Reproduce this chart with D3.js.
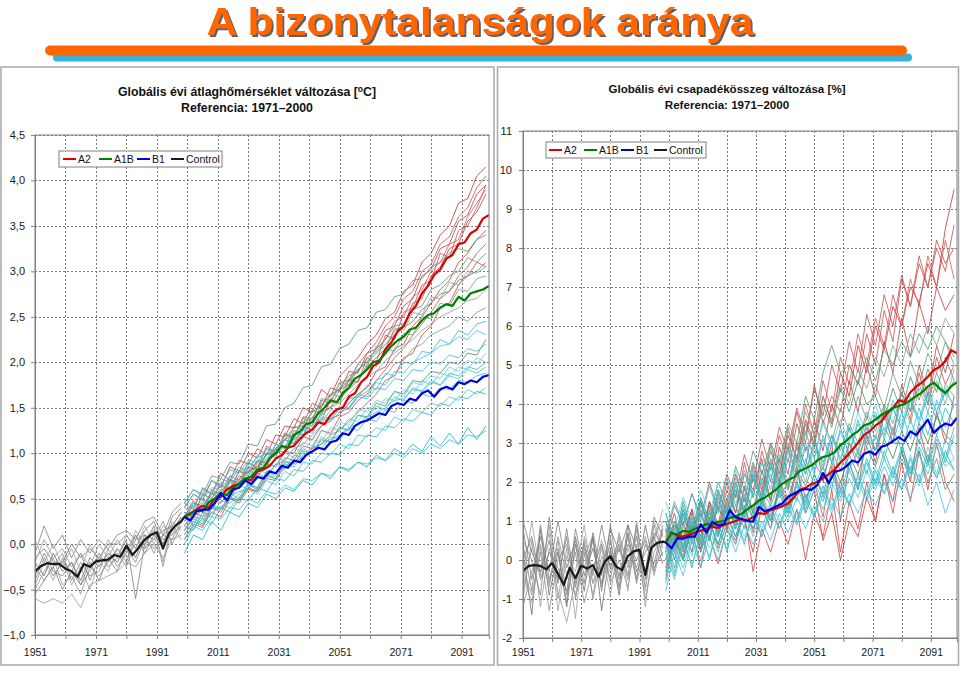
<!DOCTYPE html>
<html>
<head>
<meta charset="utf-8">
<script src="https://cdn.jsdelivr.net/npm/d3@7"></script>
<style>
body { margin: 0; background: #fff; }
svg { display: block; font-family: Arial, "Liberation Sans", sans-serif; }
</style>
</head>
<body>
<svg id="chart" width="960" height="675"></svg>
<script>
// evek (kategoriak)
const ctrlYears = [1951,1954,1957,1960,1963,1966,1969,1972,1975,1978,1981,1984,1987,1990,1993,1996,1999];
const scenYears = [2000,2003,2006,2009,2012,2015,2018,2021,2024,2027,2030,2033,2036,2039,2042,2045,2048,2051,2054,2057,2060,2063,2066,2069,2072,2075,2078,2081,2084,2087,2090,2093,2096,2099];
const meanCtrlYears = [1951,1953,1955,1957,1959,1961,1963,1965,1967,1969,1971,1973,1975,1977,1979,1981,1983,1985,1987,1989,1991,1993,1995,1997,1999,2000];
const meanScenYears = [2000,2002,2004,2006,2008,2010,2012,2014,2016,2018,2020,2022,2024,2026,2028,2030,2032,2034,2036,2038,2040,2042,2044,2046,2048,2050,2052,2054,2056,2058,2060,2062,2064,2066,2068,2070,2072,2074,2076,2078,2080,2082,2084,2086,2088,2090,2092,2094,2096,2098,2100];
const gridYears = [1961,1971,1981,1991,2001,2011,2021,2031,2041,2051,2061,2071,2081,2091];
const labelYears = [1951,1971,1991,2011,2031,2051,2071,2091];
const legendLabels = ["A2", "A1B", "B1", "Control"];

// homerseklet [°C]
const tempTicks = [-1, -0.5, 0, 0.5, 1, 1.5, 2, 2.5, 3, 3.5, 4, 4.5];
const tempControlRuns = [
  [-0.10,0.20,-0.05,0.10,-0.15,0.05,-0.10,0.05,-0.05,0.10,0.15,0.05,0.25,0.30,0.10,0.35,0.45],
  [-0.60,-0.65,-0.60,-0.65,-0.55,-0.70,-0.45,-0.40,-0.35,-0.30,-0.20,-0.25,-0.10,0.00,-0.15,0.05,0.10],
  [-0.20,-0.35,-0.10,-0.30,-0.20,-0.40,-0.15,-0.25,-0.10,-0.20,0.00,-0.15,0.10,0.05,0.15,0.20,0.35],
  [-0.45,-0.20,-0.40,-0.15,-0.45,-0.25,-0.50,-0.20,-0.30,-0.05,-0.15,0.00,-0.05,0.20,-0.20,0.25,0.15],
  [-0.35,-0.10,-0.30,-0.35,-0.20,-0.45,-0.30,-0.10,-0.25,-0.15,0.05,-0.60,0.00,0.15,0.05,0.10,0.30],
  [-0.25,-0.40,-0.25,-0.10,-0.40,-0.20,-0.35,-0.30,-0.05,-0.25,-0.10,0.10,-0.05,0.05,0.25,0.00,0.20],
  [-0.15,-0.05,-0.20,-0.20,0.00,-0.15,-0.05,-0.15,0.00,0.00,0.10,-0.05,0.15,0.25,0.00,0.30,0.40],
  [-0.50,-0.30,-0.15,-0.45,-0.35,-0.55,-0.25,-0.35,-0.20,-0.10,-0.25,0.05,0.10,-0.10,0.10,0.20,0.05],
  [-0.40,-0.15,-0.35,-0.20,-0.30,-0.10,-0.40,-0.15,-0.20,-0.05,-0.20,0.10,-0.10,0.10,0.00,0.15,0.30],
  [0.05,-0.20,0.00,-0.25,-0.05,-0.30,0.00,-0.20,0.05,-0.15,0.10,-0.05,0.20,0.00,0.20,0.10,0.20],
  [-0.55,-0.40,-0.25,-0.50,-0.30,-0.45,-0.20,-0.40,-0.15,-0.30,-0.05,-0.20,0.05,-0.05,0.10,0.05,0.25],
  [-0.20,0.05,-0.15,-0.05,-0.25,-0.10,-0.25,0.00,-0.15,0.05,-0.10,0.15,0.00,0.20,-0.25,0.20,0.35]
];
const tempA2Runs = [
  [0.40,0.55,0.48,0.70,0.62,0.85,0.80,1.00,0.95,1.15,1.10,1.30,1.28,1.50,1.45,1.70,1.62,1.85,1.95,2.05,2.20,2.30,2.48,2.55,2.78,2.85,3.10,3.20,3.40,3.50,3.75,3.80,4.05,4.15],
  [0.20,0.35,0.30,0.50,0.45,0.60,0.75,0.70,0.90,0.85,1.05,1.00,1.25,1.20,1.40,1.35,1.60,1.55,1.80,1.78,2.05,2.00,2.30,2.25,2.55,2.60,2.85,2.90,3.20,3.15,3.45,3.50,3.70,3.95],
  [0.10,0.25,0.20,0.35,0.30,0.50,0.45,0.60,0.58,0.72,0.70,0.85,0.90,0.95,1.05,1.10,1.20,1.25,1.35,1.45,1.55,1.65,1.80,1.85,2.05,2.10,2.30,2.40,2.60,2.65,2.85,2.95,3.10,3.05],
  [0.35,0.30,0.55,0.50,0.65,0.60,0.80,0.78,0.92,0.90,1.05,1.15,1.10,1.30,1.25,1.45,1.50,1.60,1.70,1.80,1.95,2.05,2.15,2.35,2.40,2.65,2.70,2.95,3.05,3.25,3.30,3.55,3.65,3.85],
  [0.25,0.45,0.40,0.55,0.58,0.70,0.65,0.85,0.80,1.00,0.98,1.15,1.20,1.35,1.30,1.55,1.50,1.70,1.75,1.92,2.00,2.15,2.25,2.45,2.50,2.72,2.80,3.00,3.10,3.30,3.35,3.60,3.75,3.90],
  [0.15,0.30,0.38,0.42,0.55,0.52,0.68,0.72,0.75,0.88,0.85,1.02,1.00,1.18,1.15,1.30,1.38,1.42,1.55,1.65,1.72,1.90,1.95,2.15,2.20,2.40,2.50,2.65,2.80,2.90,3.10,3.20,3.35,3.45],
  [0.45,0.38,0.62,0.55,0.78,0.70,0.92,0.88,1.05,0.98,1.20,1.18,1.38,1.32,1.55,1.50,1.72,1.68,1.90,1.88,2.10,2.15,2.35,2.40,2.62,2.70,2.95,3.02,3.25,3.30,3.55,3.62,3.85,3.95],
  [0.05,0.22,0.18,0.40,0.35,0.52,0.48,0.65,0.62,0.80,0.78,0.95,0.92,1.08,1.05,1.25,1.22,1.40,1.45,1.58,1.65,1.80,1.92,2.05,2.15,2.30,2.42,2.55,2.70,2.78,2.95,3.05,3.20,3.30],
  [0.30,0.48,0.35,0.60,0.52,0.75,0.70,0.90,0.82,1.08,1.00,1.22,1.15,1.40,1.38,1.58,1.55,1.78,1.80,1.98,2.10,2.22,2.40,2.50,2.70,2.78,3.00,3.08,3.30,3.38,3.60,3.70,3.92,4.05]
];
const tempA1BRuns = [
  [0.45,0.60,0.55,0.75,0.72,0.90,0.88,1.10,1.08,1.30,1.32,1.50,1.55,1.72,1.75,1.95,1.98,2.15,2.20,2.35,2.38,2.55,2.58,2.72,2.75,2.90,2.92,3.05,3.10,3.20,3.25,3.22,3.35,3.40],
  [0.20,0.30,0.28,0.42,0.40,0.52,0.58,0.60,0.72,0.75,0.88,0.92,1.05,1.10,1.20,1.30,1.35,1.45,1.50,1.62,1.68,1.80,1.85,1.98,2.02,2.15,2.20,2.30,2.35,2.40,2.50,2.45,2.55,2.60],
  [0.30,0.45,0.42,0.55,0.50,0.70,0.68,0.80,0.85,0.98,1.05,1.15,1.28,1.30,1.45,1.52,1.65,1.70,1.80,1.92,2.00,2.10,2.20,2.30,2.38,2.45,2.58,2.65,2.75,2.78,2.90,2.95,3.00,3.10],
  [0.25,0.35,0.48,0.45,0.60,0.58,0.72,0.80,0.78,0.95,0.98,1.08,1.15,1.25,1.30,1.42,1.50,1.55,1.65,1.75,1.85,1.90,2.02,2.10,2.18,2.25,2.35,2.42,2.50,2.55,2.60,2.68,2.70,2.80],
  [0.35,0.30,0.45,0.55,0.52,0.68,0.62,0.85,0.82,1.00,0.95,1.20,1.18,1.38,1.35,1.60,1.58,1.72,1.85,1.90,2.05,2.12,2.25,2.40,2.42,2.58,2.62,2.80,2.85,2.95,3.00,3.15,3.10,3.20],
  [0.40,0.32,0.55,0.50,0.68,0.62,0.80,0.75,0.92,0.88,1.10,1.05,1.30,1.25,1.48,1.42,1.65,1.62,1.82,1.78,1.98,1.95,2.15,2.12,2.32,2.30,2.50,2.48,2.65,2.62,2.80,2.78,2.92,2.95],
  [0.15,0.28,0.22,0.40,0.38,0.50,0.48,0.62,0.58,0.75,0.72,0.90,0.88,1.02,1.00,1.15,1.12,1.28,1.25,1.42,1.40,1.55,1.52,1.68,1.65,1.80,1.78,1.90,1.88,2.00,1.98,2.10,2.08,2.25],
  [0.28,0.42,0.38,0.58,0.55,0.72,0.65,0.90,0.85,1.05,1.02,1.22,1.18,1.40,1.38,1.58,1.55,1.78,1.75,1.98,1.95,2.18,2.15,2.38,2.35,2.55,2.52,2.72,2.70,2.88,2.85,3.00,2.98,3.05]
];
const tempB1Runs = [
  [0.50,0.40,0.60,0.55,0.72,0.68,0.85,0.80,0.98,0.92,1.10,1.05,1.22,1.20,1.35,1.32,1.48,1.45,1.60,1.62,1.75,1.70,1.88,1.85,2.00,1.98,2.12,2.10,2.25,2.20,2.35,2.30,2.42,2.45],
  [0.10,0.25,0.20,0.35,0.42,0.40,0.52,0.60,0.55,0.70,0.65,0.80,0.75,0.90,0.88,1.00,0.98,1.10,1.05,1.20,1.18,1.28,1.25,1.40,1.35,1.48,1.45,1.55,1.52,1.62,1.58,1.70,1.65,1.72],
  [-0.10,0.10,0.05,0.25,0.15,0.35,0.30,0.45,0.40,0.55,0.50,0.62,0.58,0.70,0.65,0.78,0.72,0.85,0.80,0.90,0.85,0.98,0.92,1.05,0.98,1.10,1.02,1.18,1.08,1.22,1.10,1.28,1.15,1.30],
  [0.30,0.45,0.35,0.55,0.50,0.68,0.62,0.78,0.72,0.90,0.85,1.00,0.95,1.12,1.08,1.25,1.20,1.35,1.30,1.48,1.45,1.58,1.55,1.68,1.62,1.78,1.75,1.85,1.82,1.95,1.90,2.02,1.98,2.10],
  [0.20,0.15,0.35,0.30,0.48,0.45,0.55,0.65,0.60,0.78,0.72,0.88,0.85,0.98,1.02,1.10,1.15,1.20,1.28,1.32,1.40,1.45,1.50,1.58,1.60,1.70,1.68,1.80,1.75,1.88,1.85,1.95,1.92,2.00],
  [0.40,0.55,0.50,0.62,0.60,0.75,0.80,0.85,0.95,1.00,1.05,1.15,1.12,1.28,1.25,1.40,1.38,1.52,1.50,1.65,1.62,1.78,1.75,1.90,1.88,2.00,2.05,2.10,2.18,2.20,2.28,2.25,2.35,2.30],
  [0.05,0.20,0.15,0.30,0.28,0.40,0.38,0.50,0.45,0.58,0.55,0.65,0.60,0.72,0.70,0.78,0.75,0.85,0.82,0.90,0.88,0.95,0.92,1.00,0.95,1.05,1.00,1.10,1.05,1.15,1.10,1.20,1.18,1.25],
  [0.25,0.35,0.45,0.40,0.58,0.52,0.70,0.65,0.82,0.78,0.95,0.92,1.05,1.02,1.15,1.12,1.28,1.25,1.38,1.35,1.50,1.48,1.60,1.58,1.70,1.65,1.80,1.75,1.88,1.85,1.95,1.92,2.05,2.00],
  [0.35,0.20,0.42,0.38,0.55,0.50,0.65,0.60,0.78,0.72,0.88,0.82,0.98,0.95,1.08,1.05,1.18,1.15,1.28,1.25,1.38,1.35,1.48,1.45,1.58,1.55,1.65,1.62,1.72,1.70,1.80,1.78,1.85,1.88],
  [0.00,0.18,0.28,0.22,0.40,0.35,0.50,0.48,0.62,0.58,0.72,0.70,0.82,0.80,0.92,0.90,1.00,0.98,1.10,1.08,1.20,1.18,1.30,1.28,1.38,1.35,1.45,1.42,1.55,1.52,1.62,1.60,1.68,1.65],
  [0.45,0.60,0.52,0.70,0.65,0.82,0.78,0.92,0.90,1.05,1.00,1.15,1.10,1.25,1.22,1.38,1.35,1.50,1.48,1.62,1.60,1.72,1.70,1.82,1.80,1.92,1.90,2.00,1.98,2.08,2.05,2.15,2.12,2.20],
  [0.15,0.30,0.25,0.42,0.38,0.55,0.50,0.68,0.62,0.80,0.75,0.92,0.88,1.05,1.00,1.18,1.12,1.30,1.25,1.42,1.38,1.52,1.48,1.62,1.58,1.72,1.68,1.78,1.75,1.85,1.82,1.92,1.88,1.95]
];
const tempControlMean = [-0.30,-0.24,-0.21,-0.22,-0.22,-0.27,-0.30,-0.36,-0.22,-0.25,-0.19,-0.18,-0.17,-0.12,-0.14,-0.02,-0.12,-0.04,0.05,0.10,0.13,-0.05,0.12,0.20,0.25,0.30];
const tempA2Mean = [0.30,0.34,0.38,0.42,0.40,0.50,0.52,0.60,0.64,0.66,0.72,0.70,0.80,0.82,0.86,0.94,0.98,1.06,1.08,1.16,1.22,1.26,1.34,1.32,1.42,1.48,1.50,1.62,1.66,1.78,1.84,1.96,2.00,2.14,2.22,2.34,2.40,2.54,2.62,2.76,2.84,2.96,3.02,3.14,3.18,3.30,3.32,3.42,3.46,3.58,3.62];
const tempA1BMean = [0.30,0.33,0.38,0.36,0.46,0.50,0.56,0.54,0.62,0.66,0.72,0.74,0.82,0.84,0.94,1.00,1.08,1.06,1.20,1.24,1.32,1.34,1.44,1.50,1.58,1.56,1.66,1.72,1.82,1.86,1.92,2.00,2.02,2.10,2.18,2.24,2.28,2.36,2.38,2.46,2.52,2.54,2.60,2.64,2.62,2.72,2.68,2.76,2.78,2.80,2.84];
const tempB1Mean = [0.30,0.26,0.36,0.38,0.38,0.45,0.56,0.48,0.60,0.62,0.70,0.66,0.74,0.72,0.80,0.78,0.86,0.84,0.92,0.90,0.98,1.02,1.06,1.04,1.12,1.14,1.22,1.20,1.30,1.34,1.36,1.40,1.44,1.42,1.52,1.55,1.53,1.60,1.58,1.66,1.69,1.62,1.70,1.73,1.70,1.78,1.76,1.80,1.78,1.84,1.86];

// csapadek [%]
const precTicks = [-2, -1, 0, 1, 2, 3, 4, 5, 6, 7, 8, 9, 10, 11];
const precControlRuns = [
  [0.8,-0.5,0.6,-0.3,1.0,-0.2,0.5,-0.6,0.7,-0.4,0.8,0.2,0.9,0.3,-0.3,1.1,0.6],
  [-1.0,0.5,-1.2,0.3,-0.8,-1.6,-0.5,0.2,-0.9,0.4,-0.6,0.0,-0.7,0.8,-1.2,0.6,1.0],
  [0.2,-1.4,0.8,-0.9,0.2,-1.2,0.4,-0.8,0.6,-1.3,0.3,-0.9,0.7,-0.5,0.9,-0.2,0.2],
  [-0.6,1.0,-0.4,0.9,-1.0,0.3,-1.5,0.6,-0.3,0.5,-0.2,0.6,-0.8,1.0,-0.4,0.5,1.3],
  [0.5,0.0,-0.9,1.1,-0.5,0.6,-1.0,0.1,0.6,-0.8,0.9,-0.5,0.4,0.0,0.5,-0.3,0.8],
  [-1.2,-0.3,0.4,-0.6,0.5,-0.9,0.2,-1.1,-0.2,0.4,-0.5,0.7,-0.2,0.6,-0.7,0.9,0.1],
  [0.0,0.6,-0.5,0.2,-0.2,-0.8,0.6,-0.4,0.3,-0.6,0.5,-0.7,0.9,-0.3,0.2,0.6,-0.1],
  [-0.3,-0.9,0.2,-1.3,0.0,0.4,-0.6,0.5,-1.0,0.1,-0.3,0.3,-0.5,0.4,-1.0,0.2,0.7],
  [0.4,-0.8,0.9,-0.5,0.3,-1.1,0.8,-0.2,0.5,-0.7,0.2,-0.4,0.6,-0.6,0.4,-0.1,0.9],
  [-0.8,0.3,-0.2,0.7,-1.3,0.1,-0.3,0.9,-0.6,0.3,-0.9,0.5,-0.1,0.6,-0.8,1.0,0.3],
  [1.0,0.2,-0.3,0.5,-0.6,0.8,-0.7,0.4,-0.4,0.9,-0.2,0.4,-0.4,0.9,-0.5,0.7,0.4],
  [-0.4,-1.1,0.3,-0.7,0.6,-0.4,-0.9,0.3,-0.6,-0.1,0.6,-0.8,0.3,-0.2,0.6,-0.4,0.5]
];
const precA2Runs = [
  [1.0,0.2,1.2,0.5,1.5,0.8,1.8,1.2,2.2,1.5,2.5,1.8,2.8,2.2,3.2,2.6,3.6,3.0,4.2,3.5,4.8,4.2,5.5,4.8,6.0,5.4,6.5,6.0,7.0,6.6,7.6,7.0,8.5,9.5],
  [0.0,0.8,0.3,1.2,0.6,1.5,0.8,1.8,1.2,2.5,1.6,2.8,2.0,3.2,2.5,3.8,3.0,4.5,3.5,4.2,3.8,5.0,4.5,5.8,5.0,6.4,5.6,7.2,6.5,7.8,7.0,8.2,7.6,8.0],
  [-0.5,0.5,0.0,0.8,-0.2,1.0,0.3,0.9,0.5,1.2,-0.3,0.8,0.2,1.0,0.4,1.3,0.0,1.2,0.6,1.8,0.2,1.5,0.8,2.0,1.0,2.2,1.2,2.5,1.5,2.8,1.8,3.0,2.0,1.5],
  [0.5,1.2,0.2,1.0,0.4,1.5,0.9,2.0,1.2,2.2,1.8,2.6,1.5,2.9,2.2,3.5,2.8,3.2,2.0,3.0,1.0,2.5,1.8,3.2,2.5,3.8,3.0,4.5,3.8,5.0,4.2,5.5,4.8,5.8],
  [0.8,0.0,1.0,0.2,1.3,0.5,1.6,0.8,2.0,1.2,2.4,1.6,3.0,2.0,3.4,2.5,4.0,3.2,4.6,3.8,5.2,4.5,5.8,5.0,6.2,5.5,6.8,6.0,7.2,6.5,7.8,7.0,8.2,7.2],
  [0.2,0.9,0.6,1.3,0.4,1.4,0.6,1.5,0.9,1.0,0.2,1.4,0.8,2.0,1.4,2.4,1.2,1.8,0.5,1.2,0.0,1.0,0.6,1.6,1.0,2.2,1.5,2.8,2.0,3.4,2.5,3.8,3.0,4.2],
  [0.3,1.0,0.5,1.3,0.2,1.1,0.7,1.6,0.8,1.9,1.2,2.3,1.5,2.6,1.8,3.0,2.4,3.6,2.8,4.0,3.4,4.6,3.8,5.0,4.2,5.6,4.8,6.2,5.2,6.6,5.8,7.0,6.4,6.8],
  [-0.2,0.6,0.1,0.9,0.3,0.6,-0.1,0.8,0.4,1.4,0.7,1.6,1.0,1.9,1.3,2.3,1.6,2.0,1.1,2.4,1.8,3.0,2.4,3.4,2.8,3.9,3.2,4.3,3.6,4.8,4.0,5.2,4.5,5.0],
  [0.6,1.4,0.9,1.7,1.1,2.0,1.3,2.2,1.6,2.7,2.0,3.1,2.3,3.4,2.8,3.9,3.2,4.4,3.7,5.0,4.3,5.6,4.8,6.3,5.5,6.8,6.0,7.3,6.5,7.6,7.0,8.0,7.4,8.6]
];
const precA1BRuns = [
  [1.2,0.5,1.5,0.8,1.6,1.0,2.0,1.4,2.4,1.8,2.8,2.2,3.0,2.5,3.5,3.0,4.2,3.6,4.8,5.5,4.8,5.0,4.5,5.2,4.6,5.4,5.0,5.6,5.2,5.8,5.4,6.0,5.6,5.2],
  [0.2,0.9,0.4,1.0,0.6,1.2,0.8,1.5,1.0,1.8,1.3,2.1,1.6,2.4,1.9,2.7,2.2,3.0,2.5,3.2,2.8,3.5,3.0,3.8,3.3,4.0,3.5,4.3,3.8,4.5,4.0,4.8,4.2,4.6],
  [-0.3,0.6,0.0,0.8,0.3,1.0,0.4,1.1,0.6,1.3,0.8,1.5,1.0,1.8,1.2,2.0,1.5,2.2,1.7,2.5,2.0,2.7,2.2,2.9,2.4,3.1,2.6,3.3,2.8,3.5,3.0,3.7,3.2,3.0],
  [0.8,0.2,1.1,0.5,1.4,0.9,1.7,1.2,2.1,1.6,2.5,2.0,2.9,2.4,3.3,2.8,3.8,3.2,4.2,3.6,4.5,4.0,4.9,4.4,5.2,4.7,5.5,5.0,5.8,5.3,6.0,5.5,6.2,5.8],
  [0.4,1.0,0.3,0.9,0.5,1.2,0.7,1.3,0.9,1.6,1.1,1.8,1.4,2.0,1.6,2.3,1.9,2.5,2.1,2.8,2.3,3.0,2.6,3.2,2.8,3.4,3.0,3.0,2.2,2.8,2.0,2.6,1.8,2.2],
  [0.6,-0.2,0.9,0.2,1.2,0.5,1.4,0.8,1.7,1.1,2.1,1.5,2.5,1.9,2.9,2.2,3.3,2.6,3.6,3.0,3.9,3.3,4.2,3.6,4.5,3.9,4.8,4.2,5.1,4.5,5.3,4.8,5.6,5.0],
  [1.0,0.4,1.3,0.6,1.5,0.8,1.3,1.0,1.8,1.2,2.2,1.6,2.6,2.0,3.0,2.4,3.5,2.9,4.0,3.4,4.4,3.8,4.6,4.0,4.2,3.6,4.4,3.8,4.7,4.1,4.9,4.3,5.2,4.6],
  [-0.1,0.7,0.2,1.0,0.4,1.2,0.6,1.4,0.9,1.7,1.2,2.0,1.5,2.3,1.8,2.6,2.0,2.9,2.3,3.2,2.6,3.4,2.8,3.7,3.1,3.9,3.3,4.1,3.5,4.4,3.8,4.6,4.0,4.9]
];
const precB1Runs = [
  [1.0,0.0,1.2,0.4,1.5,0.6,1.7,0.9,1.9,1.2,2.2,1.4,2.4,1.7,2.6,2.0,2.9,2.2,3.1,2.5,3.3,2.7,3.5,3.0,3.7,3.2,3.9,3.4,4.1,3.6,4.3,3.8,4.5,4.2],
  [-0.6,0.4,-0.2,0.6,0.0,0.8,0.2,1.0,0.4,1.2,0.6,1.3,0.8,1.5,1.0,1.6,1.2,1.8,1.3,2.0,1.5,2.1,1.6,2.3,1.8,2.4,1.9,2.6,2.1,2.7,2.2,2.9,2.4,2.6],
  [0.5,-0.4,0.6,-0.2,0.8,0.0,1.0,0.2,1.1,0.4,1.3,0.6,1.4,0.8,1.6,1.0,1.7,1.1,1.9,1.3,2.0,1.4,2.2,1.6,2.3,1.7,2.4,1.8,2.6,2.0,2.7,2.1,2.8,2.3],
  [1.5,0.8,1.6,1.0,1.8,1.2,2.0,1.4,2.3,1.6,2.5,1.9,2.8,2.1,3.0,2.4,3.3,2.6,3.5,2.9,3.6,3.0,3.8,3.2,4.0,3.3,4.1,3.5,4.2,3.6,4.4,3.8,4.3,4.0],
  [0.0,0.9,0.3,1.1,0.5,1.3,0.6,1.4,0.8,1.6,1.0,1.7,1.1,1.9,1.3,2.0,1.4,2.2,1.6,2.3,1.7,2.5,1.9,2.6,2.0,2.8,2.2,2.9,2.3,3.1,2.5,3.2,2.6,3.4],
  [-0.8,0.2,-0.4,0.5,-0.2,0.6,0.0,0.8,0.2,0.9,0.4,1.0,0.5,1.2,0.7,1.3,0.8,1.4,1.0,1.6,1.1,1.7,1.2,1.8,1.4,2.0,1.5,2.1,1.6,2.2,1.4,2.0,1.2,1.8],
  [0.8,0.3,1.3,0.7,1.2,0.5,1.5,1.0,1.4,0.8,1.8,1.3,2.2,1.6,2.0,1.5,2.6,1.9,2.4,1.8,3.0,2.3,2.8,2.2,3.2,2.6,3.4,2.8,3.6,3.0,3.8,3.2,3.9,3.5],
  [0.3,-0.3,0.7,0.1,0.9,0.3,0.7,0.4,1.0,0.6,1.2,0.8,1.5,1.0,1.3,0.9,1.6,1.2,1.9,1.4,1.8,1.5,2.1,1.7,2.4,1.9,2.3,1.8,2.7,2.0,2.9,2.2,3.1,2.6],
  [1.2,0.5,1.4,0.7,1.6,0.9,1.8,1.1,2.0,1.3,2.3,1.6,2.5,1.8,2.8,2.1,3.0,2.3,3.2,2.5,3.4,2.7,3.6,2.9,3.8,3.1,3.9,3.3,4.1,3.5,4.2,3.6,4.4,3.9],
  [-0.4,0.6,0.0,0.9,0.2,1.0,0.4,1.2,0.6,1.3,0.8,1.5,1.0,1.7,1.1,1.9,1.3,2.0,1.5,2.2,1.6,2.3,1.8,2.5,1.9,2.6,2.1,2.8,2.2,2.9,2.4,3.1,2.5,3.2],
  [0.7,1.5,0.9,1.7,1.0,1.9,1.2,2.1,1.4,2.3,1.6,2.5,1.8,2.7,2.0,2.9,2.2,3.1,2.4,3.2,2.5,3.4,2.7,3.5,2.8,3.7,3.0,3.8,3.1,3.9,3.2,4.1,3.4,4.0],
  [0.2,-0.5,0.4,-0.1,0.6,0.1,0.8,0.3,0.9,0.5,1.1,0.6,1.2,0.8,1.4,0.9,1.5,1.1,1.7,1.2,1.8,1.4,2.0,1.5,2.1,1.7,2.2,1.8,2.4,1.9,2.5,2.1,2.6,2.3]
];
const precControlMean = [-0.28,-0.15,-0.13,-0.15,-0.24,-0.08,-0.35,-0.64,-0.20,-0.46,-0.15,-0.22,-0.13,-0.43,-0.05,0.10,-0.17,-0.26,0.10,0.22,0.26,-0.38,0.30,0.44,0.47,0.45];
const precA2Mean = [0.45,0.70,0.62,0.60,0.65,0.70,0.75,0.80,0.85,0.82,0.90,0.95,1.00,1.05,1.02,1.10,1.20,1.18,1.28,1.32,1.38,1.45,1.60,1.80,1.85,1.95,2.00,2.10,2.20,2.32,2.50,2.65,2.82,3.00,3.20,3.30,3.45,3.55,3.75,3.90,4.10,4.05,4.30,4.45,4.55,4.70,4.87,4.95,5.10,5.38,5.30];
const precA1BMean = [0.45,0.70,0.65,0.75,0.72,0.80,0.85,0.92,0.90,0.98,1.00,1.08,1.12,1.18,1.30,1.40,1.52,1.60,1.70,1.82,1.95,2.05,2.12,2.28,2.35,2.42,2.55,2.64,2.68,2.76,2.95,3.05,3.20,3.30,3.45,3.50,3.60,3.72,3.80,3.90,3.95,4.00,4.10,4.20,4.30,4.45,4.55,4.40,4.28,4.45,4.56];
const precB1Mean = [0.45,0.30,0.56,0.55,0.60,0.60,0.92,0.70,0.98,0.88,0.92,1.28,1.10,1.05,1.00,0.98,1.36,1.25,1.30,1.38,1.45,1.62,1.70,1.78,1.82,1.80,1.92,2.23,1.97,2.26,2.30,2.40,2.55,2.50,2.72,2.78,2.70,2.90,2.95,3.05,3.15,3.05,3.30,3.20,3.40,3.60,3.26,3.40,3.50,3.45,3.65];

// boje
const ctrlThin = ["#808080","#999999","#707070","#a0a0a0","#8a7f7f","#909090","#787878","#9a8f8f","#858585","#a5a0a0"];
const a2Thin = ["#d03030","#c85050","#e04040","#b84848","#d85a5a","#cc3c3c","#c04040","#de4c4c","#b85454"];
const a1bThin = ["#4f9a72","#6aa08a","#3d8a60","#7aa890","#5a9478","#689e84","#4a906c","#7fa894"];
const b1Thin = ["#2cc0d8","#40c8d0","#1fb0c8","#5ad0e0","#30b8c0","#48c0d8","#22c4cc","#66ccd8","#38bcd0","#1cb8d4"];
const meanColors = ["#e00000", "#008000", "#0000e0", "#1a1a1a"];

const svg = d3.select("#chart");

// naslov i trake
const defs = svg.append("defs");
defs.append("filter").attr("id", "shadow").attr("x", "-5%").attr("y", "-20%").attr("width", "110%").attr("height", "150%")
    .append("feDropShadow").attr("dx", 2).attr("dy", 2).attr("stdDeviation", 0.6)
    .attr("flood-color", "#444").attr("flood-opacity", 0.85);

svg.append("line").attr("x1", 57).attr("x2", 908).attr("y1", 57.5).attr("y2", 57.5)
    .attr("stroke", "#38b2da").attr("stroke-width", 8).attr("stroke-linecap", "round");
svg.append("line").attr("x1", 50).attr("x2", 902).attr("y1", 50.5).attr("y2", 50.5)
    .attr("stroke", "#ff6600").attr("stroke-width", 10).attr("stroke-linecap", "round");
svg.append("text")
    .attr("x", 480).attr("y", 35)
    .attr("text-anchor", "middle")
    .attr("font-size", 39).attr("font-weight", "bold")
    .attr("textLength", 547).attr("lengthAdjust", "spacingAndGlyphs")
    .attr("fill", "#ff6600")
    .attr("filter", "url(#shadow)")
    .text("A bizonytalanságok aránya");

function drawPanel(p) {
    const x = d3.scaleLinear().domain([1951, 2100]).range([p.left, p.right]);
    const y = d3.scaleLinear().domain(p.yDomain).range([p.bottom, p.top]);
    const g = svg.append("g");

    g.append("rect")
        .attr("x", p.frame[0]).attr("y", p.frame[1]).attr("width", p.frame[2]).attr("height", p.frame[3])
        .attr("fill", "#fff").attr("stroke", "#a8a8a8").attr("stroke-width", 1.5);

    // naslov grafa
    const t1 = g.append("text").attr("x", p.titleX).attr("y", p.titleY)
        .attr("text-anchor", "middle").attr("font-size", p.titleSize).attr("font-weight", "bold").attr("fill", "#111");
    p.title(t1);
    g.append("text").attr("x", p.titleX).attr("y", p.titleY + 15.5)
        .attr("text-anchor", "middle").attr("font-size", p.titleSize).attr("font-weight", "bold").attr("fill", "#111")
        .text("Referencia: 1971–2000");

    // mreza
    g.selectAll(".hg").data(p.ticks).enter().append("line")
        .attr("x1", p.left).attr("x2", p.right)
        .attr("y1", d => Math.round(y(d)) + 0.5).attr("y2", d => Math.round(y(d)) + 0.5)
        .attr("stroke", "#7a7a7a").attr("stroke-dasharray", "2,2");
    g.selectAll(".vg").data(gridYears).enter().append("line")
        .attr("y1", p.top).attr("y2", p.bottom)
        .attr("x1", d => Math.round(x(d)) + 0.5).attr("x2", d => Math.round(x(d)) + 0.5)
        .attr("stroke", "#7a7a7a").attr("stroke-dasharray", "2,2");

    // linije
    const clipId = "clip-" + p.id;
    g.append("clipPath").attr("id", clipId).append("rect")
        .attr("x", p.left).attr("y", p.top).attr("width", p.right - p.left).attr("height", p.bottom - p.top);
    const lines = g.append("g").attr("clip-path", "url(#" + clipId + ")");
    const line = d3.line().x(d => x(d[0])).y(d => y(d[1]));
    const pairs = (years, vals) => vals.map((v, i) => [years[i], v]).filter(d => d[0] !== undefined);

    function thin(runs, years, colors) {
        lines.selectAll(null).data(runs).enter().append("path")
            .attr("d", r => line(pairs(years, r)))
            .attr("fill", "none")
            .attr("stroke", (r, i) => colors[i % colors.length])
            .attr("stroke-width", 0.9)
            .attr("stroke-opacity", 0.9);
    }
    thin(p.controlRuns, ctrlYears, ctrlThin);
    thin(p.a2Runs, scenYears, a2Thin);
    thin(p.a1bRuns, scenYears, a1bThin);
    thin(p.b1Runs, scenYears, b1Thin);

    const means = [
        [meanCtrlYears, p.controlMean, meanColors[3]],
        [meanScenYears, p.a2Mean, meanColors[0]],
        [meanScenYears, p.a1bMean, meanColors[1]],
        [meanScenYears, p.b1Mean, meanColors[2]]
    ];
    means.forEach(([yrs, vals, c]) => {
        lines.append("path")
            .attr("d", line(pairs(yrs, vals)))
            .attr("fill", "none").attr("stroke", c).attr("stroke-width", 2.2)
            .attr("stroke-linejoin", "round");
    });

    // okvir podrucja
    g.append("rect")
        .attr("x", p.left).attr("y", p.top).attr("width", p.right - p.left).attr("height", p.bottom - p.top)
        .attr("fill", "none").attr("stroke", "#808080");

    // osi
    const yAxis = g.append("g").attr("transform", "translate(" + p.left + ",0)")
        .call(d3.axisLeft(y).tickValues(p.ticks).tickFormat(p.fmt).tickSize(4).tickPadding(p.yPad));
    const xAxis = g.append("g").attr("transform", "translate(0," + p.bottom + ")")
        .call(d3.axisBottom(x).tickValues([1951].concat(gridYears))
            .tickFormat(d => labelYears.includes(d) ? d : "").tickSize(4).tickPadding(p.xPad));
    [yAxis, xAxis].forEach(a => {
        a.select(".domain").attr("stroke", "#808080");
        a.selectAll(".tick line").attr("stroke", "#808080");
        a.selectAll("text").attr("fill", "#1a1a1a").attr("font-family", "Arial, 'Liberation Sans', sans-serif");
    });
    yAxis.selectAll("text").attr("font-size", 11);
    xAxis.selectAll("text").attr("font-size", 10.5);

    // legenda
    const lg = g.append("g").attr("transform", "translate(" + p.legend[0] + "," + p.legend[1] + ")");
    lg.append("rect").attr("width", p.legend[2]).attr("height", 16)
        .attr("fill", "#fff").attr("stroke", "#808080");
    lg.selectAll(".li").data(legendLabels).enter().append("g")
        .attr("transform", (d, i) => "translate(" + p.legendX[i] + ",0)")
        .each(function (d, i) {
            const it = d3.select(this);
            it.append("line").attr("x1", 0).attr("x2", 13).attr("y1", 8).attr("y2", 8)
                .attr("stroke", meanColors[i]).attr("stroke-width", 2);
            it.append("text").attr("x", 15).attr("y", 11.8)
                .attr("font-size", 10.5).attr("fill", "#111").text(d);
        });
}

drawPanel({
    id: "temp", left: 35, right: 489, top: 135, bottom: 635,
    yDomain: [-1, 4.5], ticks: tempTicks, fmt: d => d3.format(".1f")(d).replace(".", ","),
    yPad: 6, xPad: 10,
    frame: [1, 67, 493, 598],
    titleX: 247, titleY: 96, titleSize: 12.3,
    title: t => {
        t.append("tspan").text("Globális évi átlaghőmérséklet változása [");
        t.append("tspan").attr("dy", -4).attr("font-size", 8.5).text("o");
        t.append("tspan").attr("dy", 4).text("C]");
    },
    legend: [59, 151, 163], legendX: [4, 40, 78, 112],
    controlRuns: tempControlRuns, a2Runs: tempA2Runs, a1bRuns: tempA1BRuns, b1Runs: tempB1Runs,
    controlMean: tempControlMean, a2Mean: tempA2Mean, a1bMean: tempA1BMean, b1Mean: tempB1Mean
});

drawPanel({
    id: "prec", left: 523, right: 957, top: 131, bottom: 638,
    yDomain: [-2, 11], ticks: precTicks, fmt: d => d,
    yPad: 7, xPad: 7,
    frame: [497.5, 67, 461, 598],
    titleX: 727, titleY: 93, titleSize: 11.6,
    title: t => t.text("Globális évi csapadékösszeg változása [%]"),
    legend: [546, 142, 160], legendX: [3, 38, 75, 108],
    controlRuns: precControlRuns, a2Runs: precA2Runs, a1bRuns: precA1BRuns, b1Runs: precB1Runs,
    controlMean: precControlMean, a2Mean: precA2Mean, a1bMean: precA1BMean, b1Mean: precB1Mean
});
</script>
</body>
</html>
